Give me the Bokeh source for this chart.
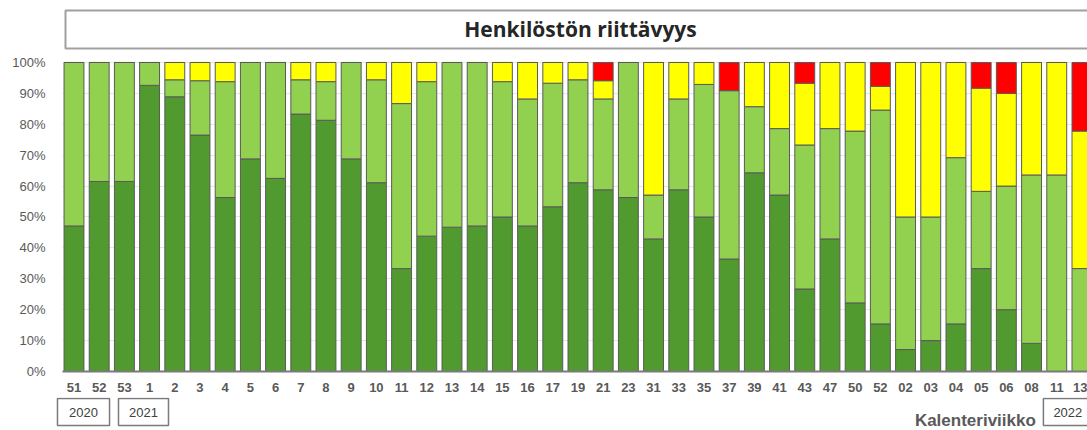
from bokeh.plotting import figure
from bokeh.models import FixedTicker, Range1d
from bokeh.layouts import column
from bokeh.core.properties import value
from bokeh.embed import file_html
from bokeh.resources import INLINE

weeks = ["51", "52", "53", "1", "2", "3", "4", "5", "6", "7", "8", "9", "10", "11", "12", "13",
         "14", "15", "16", "17", "19", "21", "23", "31", "33", "35", "37", "39", "41", "43", "47",
         "50", "52", "02", "03", "04", "05", "06", "08", "11", "13"]

dark = [47.1, 61.5, 61.5, 92.6, 88.9, 76.5, 56.3, 68.8, 62.5, 83.3, 81.3, 68.8, 61.1, 33.3,
        43.8, 46.7, 47.1, 50.0, 47.1, 53.3, 61.1, 58.8, 56.3, 42.9, 58.8, 50.0, 36.4, 64.3,
        57.1, 26.7, 42.9, 22.2, 15.4, 7.1, 10.0, 15.4, 33.3, 20.0, 9.1, 0.0, 0.0]
light = [52.9, 38.5, 38.5, 7.4, 5.5, 17.6, 37.5, 31.2, 37.5, 11.1, 12.5, 31.2, 33.3, 53.4,
         50.0, 53.3, 52.9, 43.8, 41.1, 40.0, 33.3, 29.4, 43.7, 14.2, 29.4, 42.9, 54.5, 21.4,
         21.5, 46.6, 35.7, 55.6, 69.2, 42.9, 40.0, 53.8, 25.0, 40.0, 54.5, 63.6, 33.3]
yellow = [0.0, 0.0, 0.0, 0.0, 5.6, 5.9, 6.2, 0.0, 0.0, 5.6, 6.2, 0.0, 5.6, 13.3,
          6.2, 0.0, 0.0, 6.2, 11.8, 6.7, 5.6, 5.9, 0.0, 42.9, 11.8, 7.1, 0.0, 14.3,
          21.4, 20.0, 21.4, 22.2, 7.7, 50.0, 50.0, 30.8, 33.4, 30.0, 36.4, 36.4, 44.5]
red = [0.0] * 21 + [5.9, 0.0, 0.0, 0.0, 0.0, 9.1, 0.0, 0.0, 6.7, 0.0, 0.0, 7.7, 0.0,
                    0.0, 0.0, 8.3, 10.0, 0.0, 0.0, 22.2]

years = ["2020", "2021", "2022"]
year_left = [-0.655, 1.766, 38.47]
year_right = [1.41, 3.75, 40.6]
year_center = [0.377, 2.76, 39.44]
title_text = "Henkilöstön riittävyys"
x_title = "Kalenteriviikko"

xs = list(range(len(weeks)))
data = dict(x=xs, dark=dark, light=light, yellow=yellow, red=red)

GRAY = "#595959"
W = 1087

p = figure(width=W, height=397, output_backend="svg", toolbar_location=None,
           x_range=Range1d(-0.456, 40.22), y_range=Range1d(0, 120.06),
           min_border_left=62, min_border_right=0, min_border_top=0, min_border_bottom=26)
p.outline_line_color = None

# title box
p.quad(left=[-0.337], right=[42], bottom=[104.5], top=[116.8],
       fill_color="white", line_color="#a0a0a0", line_width=2)
p.text(x=[20.1], y=[110.7], text=[title_text], text_align="center", text_baseline="middle",
       text_font=value("Open Sans"), text_font_style="bold", text_font_size="21px",
       text_color="#262626")

p.vbar_stack(["dark", "light", "yellow", "red"], x="x", width=0.79, source=data,
             color=["#519A2F", "#92D050", "#FFFF00", "#FF0000"],
             line_color="#5a5a5a", line_width=1)

p.xaxis.ticker = FixedTicker(ticks=xs)
p.xaxis.major_label_overrides = {i: w for i, w in enumerate(weeks)}
p.xaxis.major_label_text_font = "Liberation Sans"
p.xaxis.major_label_text_font_style = "bold"
p.xaxis.major_label_text_font_size = "13px"
p.xaxis.major_label_text_color = GRAY
p.xaxis.major_tick_line_color = None
p.xaxis.minor_tick_line_color = None
p.xaxis.major_label_standoff = 5
p.xaxis.axis_line_color = "#7a7a7a"
p.xaxis.axis_line_width = 2

p.yaxis.ticker = FixedTicker(ticks=list(range(0, 101, 10)))
p.yaxis.major_label_overrides = {t: f"{t}%" for t in range(0, 101, 10)}
p.yaxis.major_label_text_font = "Liberation Sans"
p.yaxis.major_label_text_font_size = "13px"
p.yaxis.major_label_text_color = GRAY
p.yaxis.major_tick_line_color = None
p.yaxis.minor_tick_line_color = None
p.yaxis.axis_line_color = None
p.yaxis.major_label_standoff = 11

p.xgrid.grid_line_color = None
p.ygrid.grid_line_color = "#e6e6e6"

# strip below the axis: year boxes and axis title (same week-index scale, pixel rows)
p2 = figure(width=W, height=33, output_backend="svg", toolbar_location=None,
            x_range=Range1d(-0.456 - 62 / 25.2, 40.22), y_range=Range1d(33, 0),
            x_axis_location=None, y_axis_location=None,
            min_border_left=0, min_border_right=0, min_border_top=0, min_border_bottom=0)
if "frame_align" in p2.properties():
    p2.frame_align = False
    p.frame_align = False
p2.outline_line_color = None
p2.grid.visible = False
p2.quad(left=year_left, right=year_right, top=[1] * 3, bottom=[28] * 3,
        fill_color="white", line_color="#7a7a7a", line_width=1.5)
p2.text(x=year_center, y=[14.5] * 3, text=years, text_align="center", text_baseline="middle",
        text_font=value("Liberation Sans"), text_font_size="13px", text_color="#404040")
p2.text(x=[35.77], y=[13], text=[x_title], text_align="center", text_baseline="top",
        text_font=value("Liberation Sans"), text_font_style="bold", text_font_size="17px",
        text_color=GRAY)

layout = column(p, p2, spacing=0)
open("out.html", "w").write(file_html(layout, INLINE))
